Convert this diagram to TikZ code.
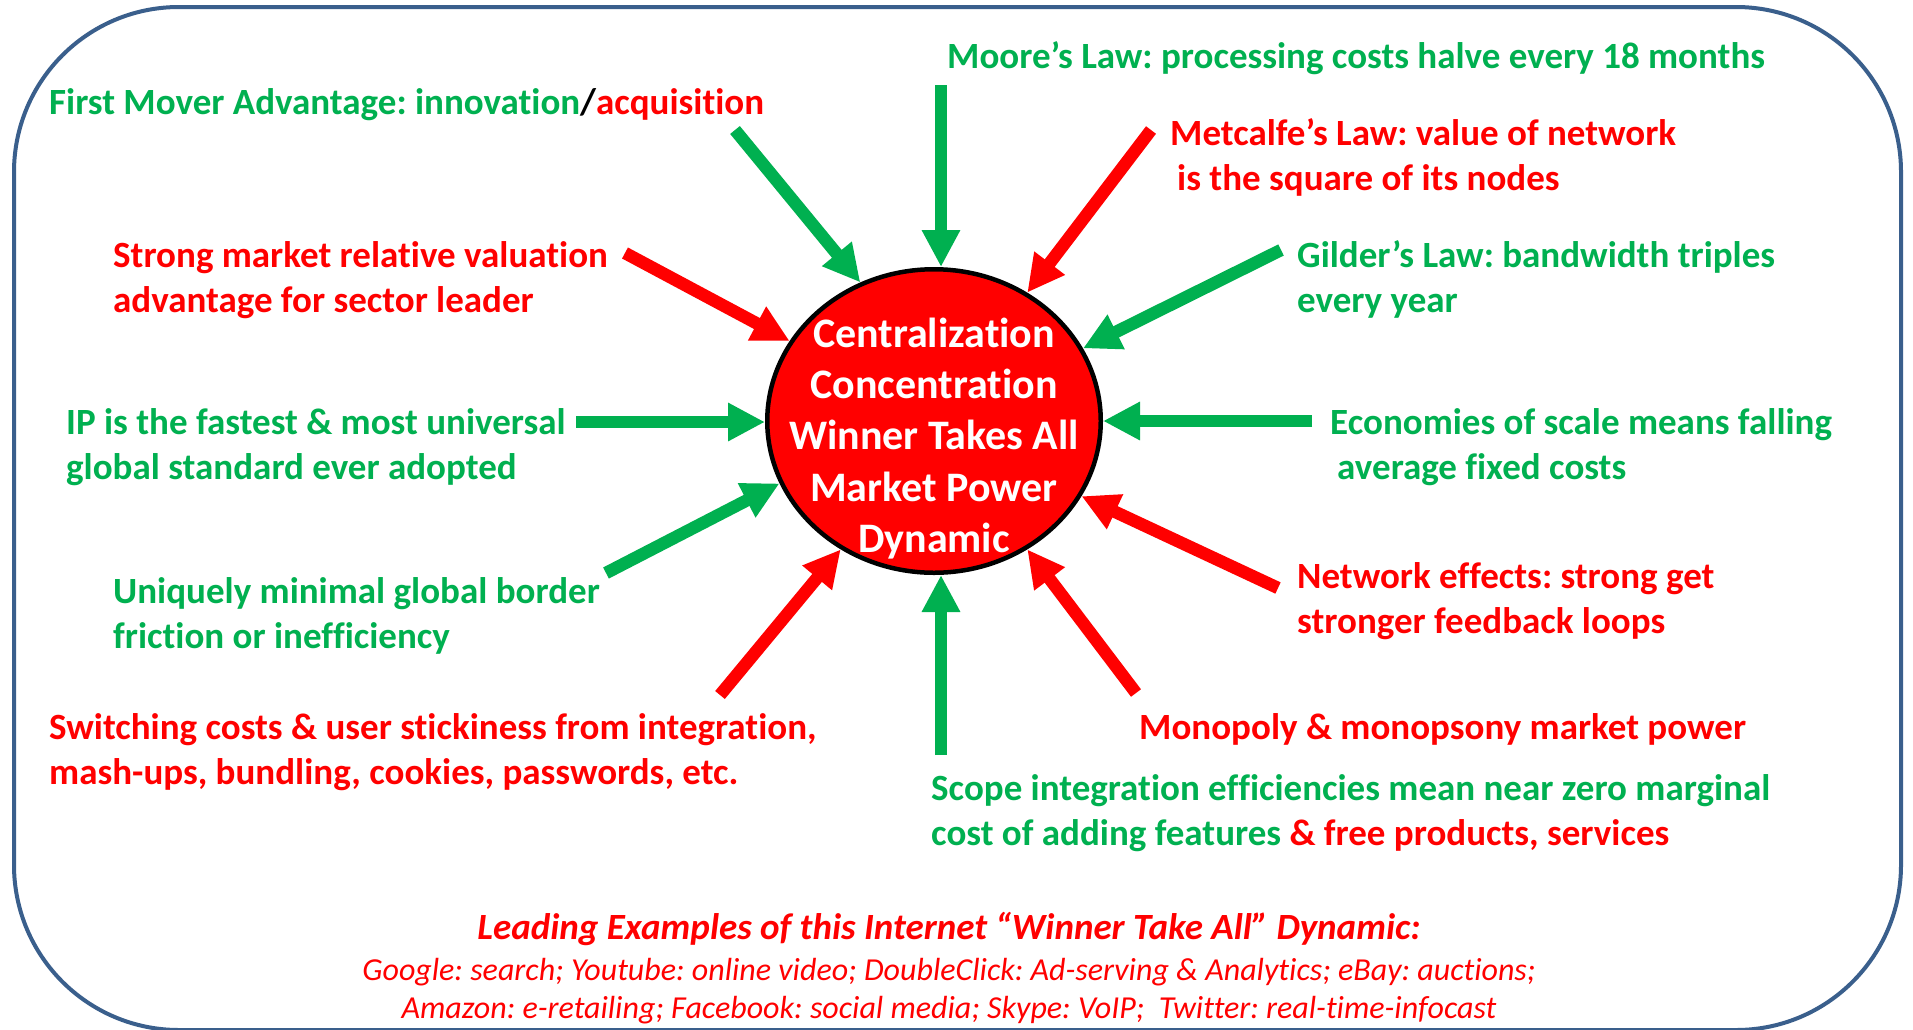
\documentclass[tikz,border=0pt]{standalone}
\usepackage{fontspec}
\setmainfont{Carlito}[Ligatures=NoCommon]
\usetikzlibrary{shapes.geometric,arrows.meta}
\definecolor{ogreen}{RGB}{0,176,80}
\definecolor{ored}{RGB}{255,0,0}
\definecolor{oborder}{RGB}{58,95,140}
\frenchspacing
\begin{document}
\begin{tikzpicture}[x=1pt,y=-1pt,
  lbl/.style={anchor=base west, align=left, font=\fontsize{37}{45}\selectfont\bfseries, inner sep=0pt},
  glbl/.style={lbl, text=ogreen},
  rlbl/.style={lbl, text=ored},
  arr/.style={line width=12.5pt, -{Triangle[width=36pt,length=37pt]}},
  garr/.style={arr, draw=ogreen},
  rarr/.style={arr, draw=ored},
  hub/.style={ellipse, draw=black, line width=4.5pt, fill=ored, minimum width=333.5pt, minimum height=303.5pt, inner sep=0pt},
  hubtext/.style={anchor=base, align=center, text=white, font=\fontsize{42}{51.3}\selectfont\bfseries, inner sep=0pt},
  frame/.style={draw=oborder, line width=4pt, rounded corners=165pt},
]
\fill[white] (0,0) rectangle (1913,1029);
\useasboundingbox (0,0) rectangle (1913,1029);
\draw[frame] (14,7) rectangle (1901,1030);

\node[hub] (c) at (934,421) {};

% arrows
\coordinate (t1) at (735,130);
\coordinate (t2) at (941,85);
\coordinate (t3) at (1151,130);
\coordinate (t4) at (1281,250);
\coordinate (t5) at (1312,421);
\coordinate (t6) at (1278,588);
\coordinate (t7) at (1136,693);
\coordinate (t8) at (941,755);
\coordinate (t9) at (720,695);
\coordinate (t10) at (606,573);
\coordinate (t11) at (576,422);
\coordinate (t12) at (625,253);
\draw[garr] (t1) -- (c.118);
\draw[garr] (t2) -- (t2 |- c.north);
\draw[rarr] (t3) -- (c.54);
\draw[garr] (t4) -- (c.26);
\draw[garr] (t5) -- (t5 -| c.east);
\draw[rarr] (t6) -- (c.-27);
\draw[rarr] (t7) -- (c.-54);
\draw[garr] (t8) -- (t8 |- c.south);
\draw[rarr] (t9) -- (c.234);
\draw[garr] (t10) -- (c.202);
\draw[garr] (t11) -- (t11 -| c.west);
\draw[rarr] (t12) -- (c.151);

% multi-line nodes: base anchor = baseline of the last line
\node[hubtext] (ct) at (934,552.5) {Centralization\\Concentration\\Winner Takes All\\Market Power\\Dynamic};

% labels
\node[glbl] (fm) at (49,114) {First Mover Advantage: innovation\textcolor{black}{/}\textcolor{ored}{acquisition}};
\node[glbl] (moore) at (947,68) {Moore’s Law: processing costs halve every 18 months};
\node[rlbl] (metc) at (1170,190) {Metcalfe’s Law: value of network\\\hspace*{7pt}is the square of its nodes};
\node[glbl] (gild) at (1297,312) {Gilder’s Law: bandwidth triples\\every year};
\node[glbl] (econ) at (1330,479) {Economies of scale means falling\\\hspace*{7pt}average fixed costs};
\node[rlbl] (netw) at (1297,633) {Network effects: strong get\\stronger feedback loops};
\node[rlbl] (mono) at (1139,739) {Monopoly \& monopsony market power};
\node[glbl] (scope) at (931,845) {Scope integration efficiencies mean near zero marginal\\cost of adding features \textcolor{ored}{\& free products, services}};
\node[rlbl] (strong) at (113,312) {Strong market relative valuation\\advantage for sector leader};
\node[glbl] (ip) at (66,479) {IP is the fastest \& most universal\\global standard ever adopted};
\node[glbl] (uniq) at (113,648) {Uniquely minimal global border\\friction or inefficiency};
\node[rlbl] (switch) at (49,784) {Switching costs \& user stickiness from integration,\\mash-ups, bundling, cookies, passwords, etc.};

\node[anchor=base, inner sep=0pt, text=ored, font=\fontsize{37}{45}\selectfont\bfseries\itshape] (lead) at (949,939) {Leading Examples of this Internet “Winner Take All” Dynamic:};
\node[anchor=base, align=center, inner sep=0pt, text=ored, font=\fontsize{32}{38}\selectfont\itshape] (ex) at (949,1018) {Google: search; Youtube: online video; DoubleClick: Ad-serving \& Analytics; eBay: auctions;\\Amazon: e-retailing; Facebook: social media; Skype: VoIP;\ \ Twitter: real-time-infocast};
\end{tikzpicture}
\end{document}
